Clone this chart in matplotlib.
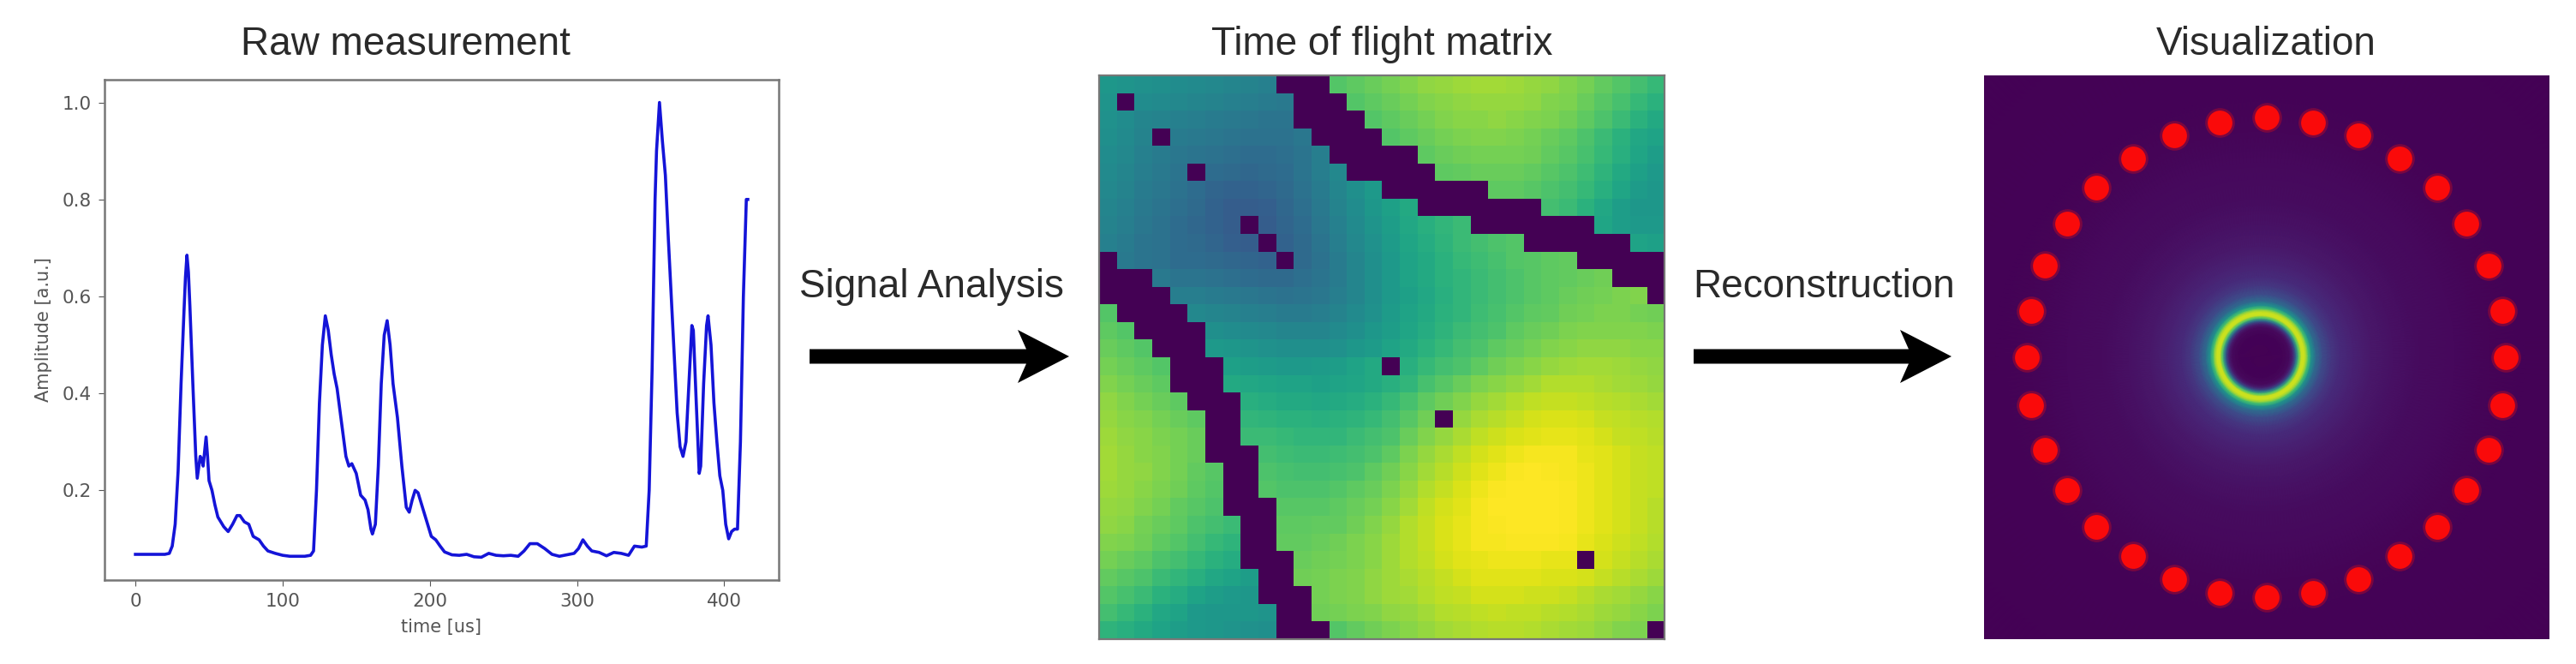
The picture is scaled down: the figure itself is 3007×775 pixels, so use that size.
#!/bin/env python3
import matplotlib
matplotlib.use('Agg')
import matplotlib.pyplot as plt
from matplotlib.patches import Polygon
from matplotlib.transforms import IdentityTransform
import numpy as np

W,H = 3007,775

################ DATA ##########################
time_us = [0,5,10,15,20,23,25,27,29,31,33,34,35,36,37,39,41,42,44,45,46,47,48,49,50,52,54,56,58,60,63,66,69,71,74,77,80,84,87,90,95,100,105,110,115,119,121,123,125,127,129,131,133,135,137,140,143,145,147,150,153,156,158,160,161,163,165,167,169,171,173,175,178,181,184,186,188,190,192,195,198,201,204,207,210,215,220,225,230,235,240,245,250,255,260,264,268,273,278,283,288,293,298,301,304,307,310,315,320,325,330,335,339,344,347,349,351,353,354,356,358,360,362,364,366,368,370,372,374,376,378,379,381,383,384,386,388,389,391,393,395,397,399,401,403,405,407,409,411,413,414,415,416]
amplitude = [.068,.068,.068,.068,.068,.07,.085,.13,.24,.42,.57,.64,.685,.65,.58,.42,.27,.225,.27,.265,.25,.28,.31,.27,.22,.20,.17,.145,.135,.125,.115,.13,.148,.148,.135,.13,.105,.098,.085,.075,.07,.066,.064,.064,.064,.066,.075,.2,.38,.5,.56,.53,.48,.44,.41,.34,.27,.25,.255,.235,.19,.18,.16,.12,.11,.13,.25,.42,.52,.55,.5,.42,.35,.25,.165,.155,.18,.2,.195,.165,.135,.105,.098,.085,.073,.067,.066,.068,.063,.062,.07,.066,.065,.066,.064,.075,.09,.09,.08,.068,.064,.067,.07,.08,.098,.085,.075,.072,.065,.072,.07,.066,.085,.083,.085,.2,.45,.8,.9,1.0,.92,.85,.72,.6,.48,.36,.29,.27,.3,.42,.54,.53,.38,.235,.25,.42,.54,.56,.5,.38,.3,.23,.2,.13,.1,.115,.12,.12,.3,.6,.7,.8,.8]

# time of flight matrix, read cell by cell (x100), 0 = no reading
tof = [
[52,51,50,49,48,47,46,45,44,43,0,0,0,72,74,76,78,80,82,83,84,85,85,84,83,82,80,78,75,72,69,66],
[51,0,48,47,46,45,44,43,42,41,40,0,0,0,72,74,76,78,80,81,82,83,83,83,82,80,79,76,73,70,66,63],
[50,48,45,44,43,42,41,40,39,38,38,0,0,0,0,72,74,76,78,80,81,81,82,81,80,79,77,74,71,67,63,60],
[49,47,44,0,41,40,39,38,37,37,37,39,0,0,0,0,72,74,76,78,79,80,80,79,78,76,74,71,67,63,59,57],
[48,46,43,41,39,38,37,36,35,35,36,38,42,0,0,0,0,0,74,76,77,78,78,78,77,75,73,70,66,62,58,55],
[47,45,42,40,38,0,35,34,33,34,35,38,42,46,0,0,0,0,0,74,75,76,76,76,75,73,71,68,64,60,56,53],
[46,44,41,39,37,35,32,31,31,32,34,37,41,45,49,53,0,0,0,0,0,0,74,74,73,71,69,66,62,58,54,52],
[45,43,40,38,36,34,31,29,29,30,33,36,40,44,48,52,56,60,0,0,0,0,0,0,0,69,67,63,59,55,52,52],
[44,42,39,37,35,33,31,29,0,29,32,35,39,43,47,51,55,59,62,65,67,0,0,0,0,0,0,0,58,55,53,53],
[43,41,38,37,35,34,32,30,29,0,31,34,38,42,46,50,54,58,61,64,67,69,71,72,0,0,0,0,0,0,57,56],
[0,40,38,37,35,35,34,33,32,31,0,34,37,41,45,49,53,57,60,63,66,68,70,72,73,74,75,0,0,0,0,0],
[0,0,0,40,38,38,37,36,35,34,34,36,38,41,45,49,53,57,60,63,65,67,69,71,73,74,75,76,77,0,0,0],
[0,0,0,0,42,42,41,40,39,38,37,38,39,42,45,49,53,56,59,62,65,67,69,71,73,74,76,77,78,79,80,0],
[72,0,0,0,0,46,45,44,43,42,41,41,42,44,47,50,54,57,60,63,65,68,70,72,74,75,77,78,79,79,78,77],
[74,72,0,0,0,0,49,48,47,46,45,45,45,47,49,52,55,58,61,64,67,69,71,74,76,77,79,80,80,80,80,79],
[76,74,72,0,0,0,53,52,51,50,49,49,49,50,52,54,57,60,63,66,69,71,74,76,78,80,81,82,82,82,81,81],
[78,76,74,72,0,0,0,56,55,54,53,53,54,55,57,60,0,62,66,69,71,74,77,79,81,83,84,85,85,84,83,82],
[80,78,76,74,0,0,0,60,59,58,57,57,56,57,58,60,62,65,70,73,76,79,81,83,85,87,87,87,86,85,84,83],
[82,80,78,76,74,0,0,0,62,61,60,60,59,60,61,63,66,70,74,77,80,83,85,87,89,90,90,89,88,87,86,85],
[83,81,80,78,76,74,0,0,65,64,63,63,62,63,64,66,69,73,77,0,83,86,88,90,92,93,93,92,90,89,88,87],
[84,82,81,79,78,76,0,0,67,67,66,65,65,65,67,69,71,76,80,83,86,89,91,93,94,95,95,94,92,90,89,88],
[85,83,81,80,78,76,0,0,0,69,68,67,67,68,69,71,74,79,83,86,89,92,94,96,97,97,97,95,94,92,90,89],
[85,83,82,80,78,75,73,0,0,71,70,69,69,70,71,74,77,81,85,88,91,94,96,98,99,98,97,96,94,92,90,89],
[84,83,81,79,77,74,72,0,0,72,71,71,71,72,74,76,79,83,87,90,93,96,98,99,100,99,98,96,94,92,90,89],
[83,82,80,78,75,73,71,0,0,0,73,73,73,74,76,78,81,85,89,92,94,97,99,100,100,100,98,96,94,92,90,88],
[82,81,78,76,74,71,69,67,0,0,74,74,75,75,77,80,83,87,90,93,95,97,98,99,100,100,98,96,94,92,90,88],
[80,79,77,74,72,69,66,64,0,0,75,75,76,77,79,81,84,87,90,93,95,97,97,98,98,98,97,95,93,91,89,87],
[78,76,74,71,69,66,63,61,0,0,0,76,77,78,79,81,84,87,89,92,94,95,96,96,96,95,95,0,92,90,88,86],
[75,73,71,67,65,62,59,57,55,0,0,77,78,79,80,82,84,86,88,90,92,94,94,94,94,93,93,92,90,88,86,84],
[72,70,67,63,61,57,55,53,52,0,0,0,78,79,80,82,84,85,87,89,90,92,92,92,91,91,90,88,86,85,83,81],
[69,66,63,59,57,53,52,52,52,51,0,0,77,78,79,80,82,83,85,87,88,89,90,89,89,88,87,86,84,83,81,79],
[64,62,60,57,55,53,52,51,50,49,0,0,0,72,75,77,79,81,83,85,86,87,88,88,87,86,85,84,82,80,79,0],
]

# reconstruction: radial profile around the ring
radius = [0,5,6.5,7.3,8,8.6,9.2,10,10.8,11.5,12.5,14,16,18,21,25,30,36,44,52,60,100]
intensity = [0,.01,.03,.1,.35,.72,.92,.92,.7,.5,.34,.23,.16,.12,.09,.065,.045,.03,.02,.01,.005,0]

# transducer positions, image units
sensor_x = [64,74.5,84.8,94,102.5,109.1,114.2,117.3,118.2,117.3,114.2,109.1,102.5,94,84.8,74.5,64,53.3,43.1,33.8,25.5,18.8,13.8,10.6,9.7,10.6,13.8,18.8,25.5,33.8,43.1,53.3]
sensor_y = [9.6,10.7,13.6,18.9,25.5,33.7,43.2,53.4,64,74.8,85,94.2,102.6,109.2,114.4,117.4,118.4,117.4,114.4,109.2,102.6,94.2,85,74.8,64,53.4,43.2,33.7,25.5,18.9,13.6,10.7]

###################################################

def rect(x0,y0,x1,y1):
    return [x0/W, 1-y1/H, (x1-x0)/W, (y1-y0)/H]

def arrow(x0,x1,y):
    # notched head, sizes in pixels
    t = 8.5
    pts = [(x0,y-t),(x1-50,y-t),(x1-60,y-31),(x1,y),(x1-60,y+31),(x1-50,y+t),(x0,y+t)]
    pts = [(px,H-py) for px,py in pts]
    fig.add_artist(Polygon(pts,closed=True,color='black',lw=0,transform=IdentityTransform()))

fig = plt.figure(figsize=(W/100,H/100),dpi=100)
title_font = dict(family='Liberation Sans',fontsize=33,color='#2a2a2a',ha='center',va='center')

# raw signal
ax = fig.add_axes(rect(122,93,909,677))
ax.plot(time_us,amplitude,color='#1414d8',lw=2.6)
ax.set_xticks([0,100,200,300,400])
ax.set_yticks([.2,.4,.6,.8,1.0])
ax.set_xlim(-21,437)
ax.set_ylim(.015,1.047)
ax.tick_params(labelsize=15.5,labelcolor='#555555',color='#555555',length=5,pad=6)
ax.set_xlabel('time [us]',fontsize=15,color='#555555',labelpad=7)
ax.set_ylabel('Amplitude [a.u.]',fontsize=15,color='#555555',labelpad=8)
for s in ax.spines.values():
    s.set_color('#777777')
    s.set_linewidth(1.8)

# matrix
ax = fig.add_axes(rect(1283,88,1943,746))
ax.imshow(np.array(tof)/100,cmap='viridis',vmin=0,vmax=.985,aspect='auto',interpolation='nearest')
ax.set_xticks([])
ax.set_yticks([])
for s in ax.spines.values():
    s.set_color('#777777')
    s.set_linewidth(1.6)

# reconstruction
ax = fig.add_axes(rect(2316,88,2976,746))
theta = np.linspace(0,2*np.pi,361)
rr,tt = np.meshgrid(radius,theta)
vals = np.tile(intensity,(len(theta),1))
ax.pcolormesh(62.6+rr*np.cos(tt),63.7+rr*np.sin(tt),vals,cmap='viridis',vmin=0,vmax=1,shading='gouraud')
ax.scatter(sensor_x,sensor_y,s=620,color='#f50d0d',alpha=.3,linewidths=0,zorder=3)
ax.scatter(sensor_x,sensor_y,s=430,color='#fa0a0a',linewidths=0,zorder=3)
ax.set_xlim(0,128)
ax.set_ylim(128,0)
ax.set_xticks([])
ax.set_yticks([])
for s in ax.spines.values():
    s.set_visible(False)

# labels + arrows
fig.text(473/W,1-52/H,'Raw measurement',**title_font)
fig.text(1613/W,1-52/H,'Time of flight matrix',**title_font)
fig.text(2645/W,1-52/H,'Visualization',**title_font)
fig.text(1087/W,1-335/H,'Signal Analysis',**title_font)
fig.text(2129/W,1-335/H,'Reconstruction',**title_font)

arrow(945,1248,416)
arrow(1977,2278,416)

fig.savefig('out.png',dpi=100)
